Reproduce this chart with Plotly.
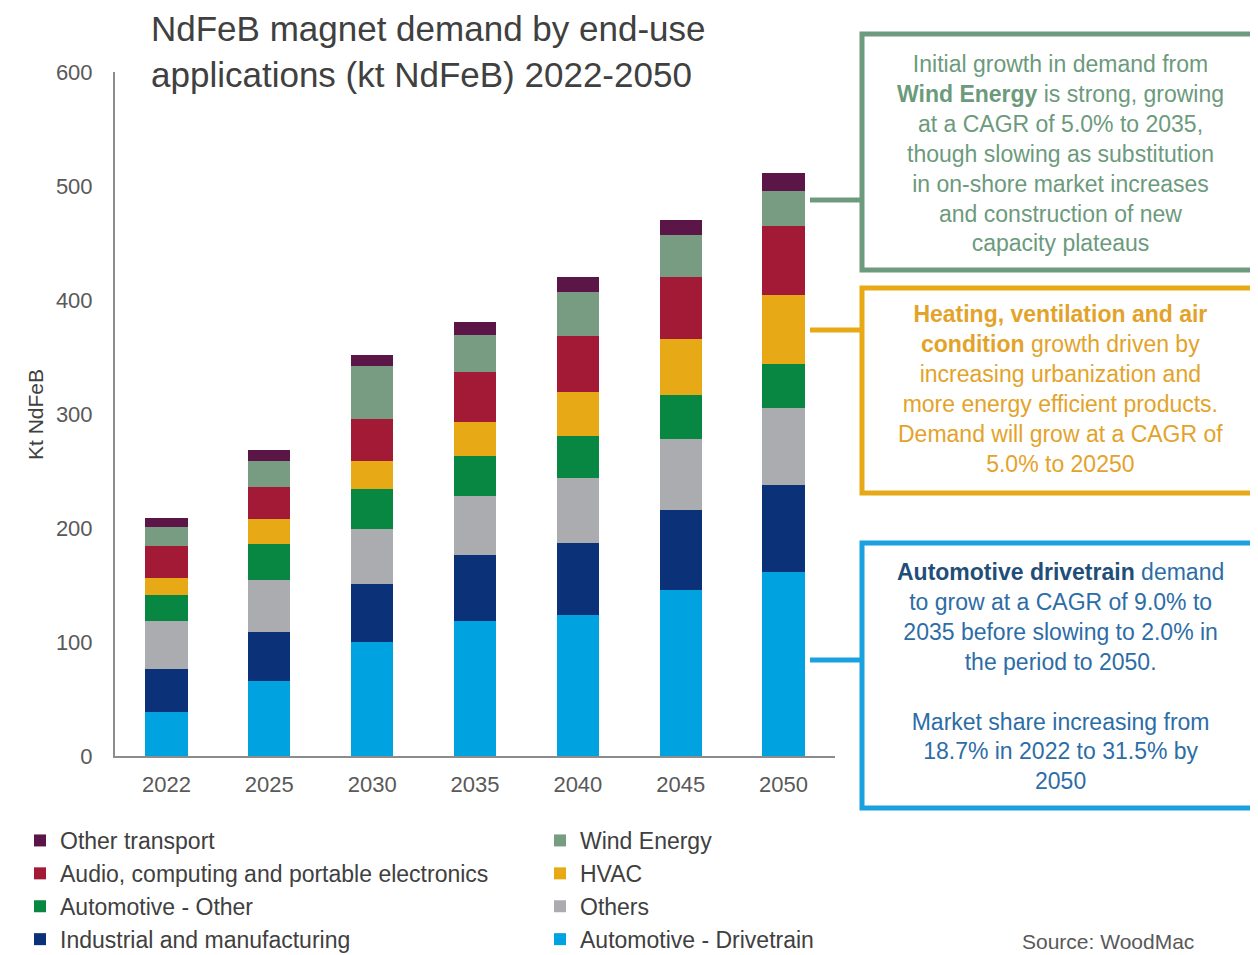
import plotly.graph_objects as go

# kt NdFeB by end-use
years = ["2022", "2025", "2030", "2035", "2040", "2045", "2050"]
drivetrain = [39, 66, 100, 118, 124, 146, 161]
industrial = [37, 43, 51, 58, 63, 70, 77]
others = [42, 45, 48, 52, 57, 62, 67]
auto_other = [23, 32, 35, 35, 37, 39, 39]
hvac = [15, 22, 25, 30, 38, 49, 60]
audio = [28, 28, 37, 44, 49, 54, 61]
wind = [17, 23, 46, 32, 39, 37, 31]
transport = [8, 9, 10, 12, 13, 13, 15]

# (name, values, colour, legend column, rank) - bottom of the stack first
series = [
    ("Automotive - Drivetrain", drivetrain, "#00A3E0", "legend2", 4),
    ("Industrial and manufacturing", industrial, "#0B3179", "legend", 4),
    ("Others", others, "#ABACAF", "legend2", 3),
    ("Automotive - Other", auto_other, "#078742", "legend", 3),
    ("HVAC", hvac, "#E8A916", "legend2", 2),
    ("Audio, computing and portable electronics", audio, "#A31A37", "legend", 2),
    ("Wind Energy", wind, "#779C81", "legend2", 1),
    ("Other transport", transport, "#5B1647", "legend", 1),
]

FONT = "Liberation Sans, Arial, sans-serif"

# the page puts the figure 8px in from the corner, so work in page pixels
OFF = 8
W, H = 1258 - OFF, 955 - OFF
L, T, R, B = 115 - OFF, 72 - OFF, 835 - OFF, 756 - OFF


def px(x):
    return (x - OFF - L) / (R - L)


def py(y):
    return (B - (y - OFF)) / (B - T)


def cx(x):
    return (x - OFF) / W


def cy(y):
    return 1 - (y - OFF) / H


fig = go.Figure()
for name, vals, color, leg, rank in series:
    fig.add_trace(go.Bar(x=years, y=vals, name=name, legend=leg, legendrank=rank,
                         marker=dict(color=color, line=dict(width=0))))

GREEN, ORANGE, BLUE = "#6E9B7E", "#E8A916", "#1BA1DF"

boxes = [
    (34, 270, 200, GREEN),
    (288, 493, 330, ORANGE),
    (543, 808, 660, BLUE),
]
shapes = []
for y0, y1, yc, col in boxes:
    shapes.append(dict(type="rect", xref="paper", yref="paper",
                       x0=px(862), x1=px(1254), y0=py(y1), y1=py(y0),
                       line=dict(color=col, width=5), fillcolor="white", layer="below"))
    shapes.append(dict(type="line", xref="paper", yref="paper",
                       x0=px(810), x1=px(862), y0=py(yc), y1=py(yc),
                       line=dict(color=col, width=5)))

wind_txt = ("Initial growth in demand from<br><b>Wind Energy</b> is strong, growing<br>"
            "at a CAGR of 5.0% to 2035,<br>though slowing as substitution<br>"
            "in on-shore market increases<br>and construction of new<br>capacity plateaus")
hvac_txt = ("<b>Heating, ventilation and air</b><br><b>condition</b> growth driven by<br>"
            "increasing urbanization and<br>more energy efficient products.<br>"
            "Demand will grow at a CAGR of<br>5.0% to 20250")
auto_txt = ("<b><span style='color:#1F4E79'>Automotive drivetrain</span></b> demand<br>"
            "to grow at a CAGR of 9.0% to<br>2035 before slowing to 2.0% in<br>"
            "the period to 2050.<br><br>Market share increasing from<br>"
            "18.7% in 2022 to 31.5% by<br>2050")

annotations = [
    dict(text=wind_txt, x=px(1060), y=py(153), font=dict(color="#6C9A7C")),
    dict(text=hvac_txt, x=px(1060), y=py(389), font=dict(color="#E3A32A")),
    dict(text=auto_txt, x=px(1060), y=py(676), font=dict(color="#2D6DA6")),
]
for a in annotations:
    a.update(xref="paper", yref="paper", showarrow=False, align="center",
             xanchor="center", yanchor="middle")
    a["font"].update(size=23, family=FONT)

annotations += [
    dict(text="NdFeB magnet demand by end-use<br>applications (kt NdFeB) 2022-2050",
         xref="paper", yref="paper", x=px(150), y=py(OFF), xanchor="left",
         yanchor="top", align="left", showarrow=False, borderpad=0,
         font=dict(size=35, color="#404040", family=FONT)),
    dict(text="Kt NdFeB", xref="paper", yref="paper", x=px(35), y=py(415),
         textangle=-90, xanchor="center", yanchor="middle", showarrow=False,
         font=dict(size=21, color="#404040", family=FONT)),
    dict(text="Source: WoodMac", xref="paper", yref="paper",
         x=px(1020), y=py(941), xanchor="left", yanchor="middle",
         showarrow=False, font=dict(size=21, color="#595959", family=FONT)),
]

legend_style = dict(orientation="v", xref="container", yref="container",
                    yanchor="top", xanchor="left", traceorder="normal",
                    font=dict(size=23, color="#404040"), itemclick=False,
                    bgcolor="rgba(0,0,0,0)")

fig.update_layout(
    barmode="stack",
    bargap=0.59,
    width=W, height=H, autosize=False,
    margin=dict(l=L, r=W - R, t=T, b=H - B, autoexpand=False),
    paper_bgcolor="white", plot_bgcolor="white",
    font=dict(family=FONT, color="#595959", size=22),
    xaxis=dict(showline=True, linecolor="#8C8C8C", linewidth=2, ticks="",
               showgrid=False, tickfont=dict(size=22, color="#595959"),
               ticklabelstandoff=8),
    yaxis=dict(range=[0, 600], dtick=100, showline=True, linecolor="#8C8C8C",
               linewidth=2, ticks="", showgrid=False, zeroline=False,
               tickfont=dict(size=22, color="#595959"), ticklabelstandoff=16),
    legend=dict(legend_style, x=cx(20), y=cy(819)),
    legend2=dict(legend_style, x=cx(540), y=cy(819)),
    shapes=shapes,
    annotations=annotations,
)

fig.write_html("out.html")
